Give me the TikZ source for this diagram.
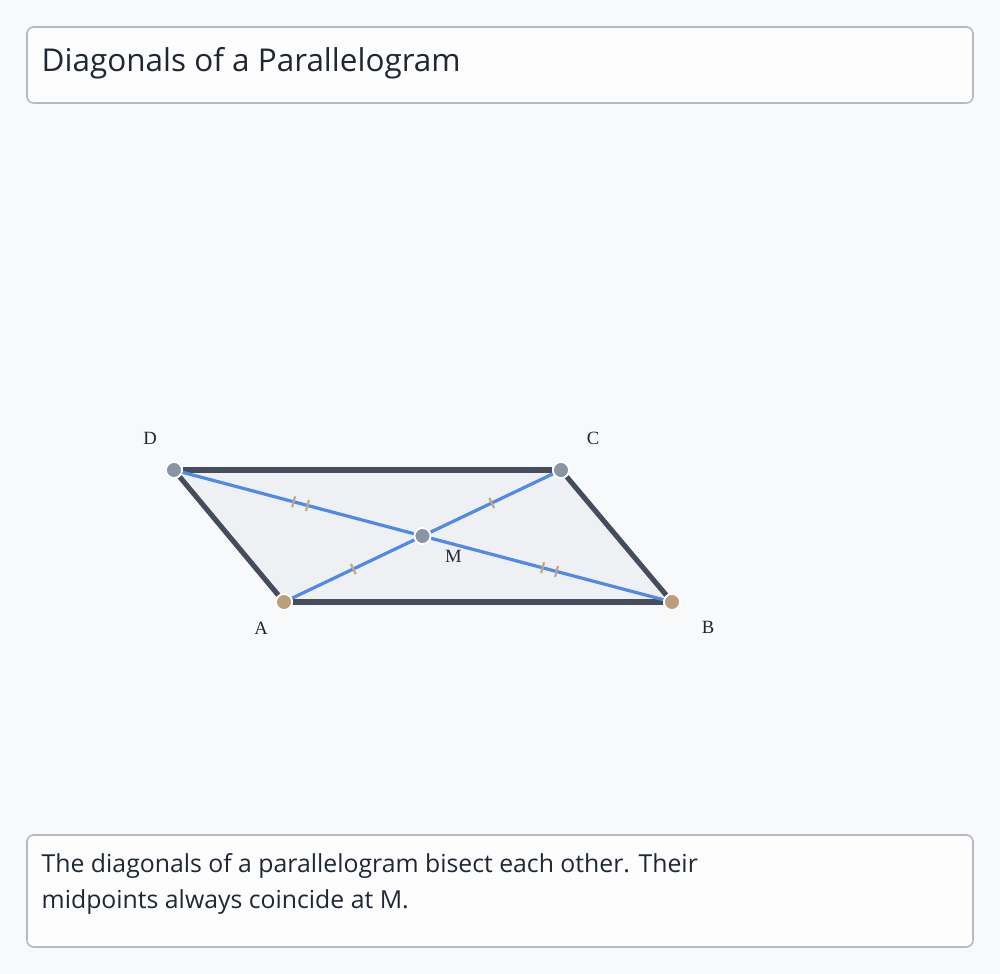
\documentclass[tikz,border=0pt]{standalone}
\usepackage{fontspec}
\setmainfont{Open Sans}
\newfontfamily\labelfont{Liberation Serif}
\usetikzlibrary{calc,positioning}
\definecolor{pagebg}{HTML}{F8F9FB}
\definecolor{boxbg}{HTML}{FDFDFE}
\definecolor{boxline}{HTML}{B4B9C2}
\definecolor{inkdark}{HTML}{1F2733}
\definecolor{sidecol}{HTML}{454D5D}
\definecolor{fillcol}{HTML}{EEF0F4}
\definecolor{diagcol}{HTML}{4F8AE6}
\definecolor{tickcol}{HTML}{C4A482}
\definecolor{tancol}{HTML}{BB9E7E}
\definecolor{greycol}{HTML}{8B94A5}
\tikzset{
  panel/.style={draw=boxline,line width=1.2pt,fill=boxbg,rounded corners=5pt},
  vertex/.style={circle,fill=#1,draw=white,line width=1.3pt,minimum size=12pt,inner sep=0pt},
  side/.style={draw=sidecol,line width=3.8pt},
  diag/.style={draw=diagcol,line width=2.4pt},
  tick/.style={fill=tickcol,minimum width=1.6pt,minimum height=8.5pt,inner sep=0pt,sloped},
  ptlabel/.style={font=\labelfont\fontsize{14}{16}\selectfont,text=inkdark}
}
\begin{document}
\begin{tikzpicture}[x=0.75pt,y=-0.75pt]
  \fill[pagebg] (0,0) rectangle (1000,974);
  \useasboundingbox (0,0) rectangle (1000,974);
  % header and caption
  \draw[panel] (27,27) rectangle (973,103);
  \node[anchor=west,text=inkdark,font=\fontsize{23.6}{28}\selectfont] (title) at (37,63) {Diagonals of a Parallelogram};
  \draw[panel] (27,835) rectangle (973,947);
  \node[anchor=north west,align=left,text=inkdark,font=\fontsize{18.6}{26.5}\selectfont] (caption) at (37,849)
    {The diagonals of a parallelogram bisect each other. Their\\midpoints always coincide at M.};
  % vertices
  \coordinate (a) at (284,602);
  \coordinate (b) at (672,602);
  \coordinate (c) at (561,470);
  \coordinate (d) at (174,470);
  \coordinate (m) at ($ (a)!0.5!(c) $);
  \fill[fillcol] (a) -- (b) -- (c) -- (d) -- cycle;
  \node[vertex=tancol] (A) at (a) {};
  \node[vertex=tancol] (B) at (b) {};
  \node[vertex=greycol] (C) at (c) {};
  \node[vertex=greycol] (D) at (d) {};
  \node[vertex=greycol] (M) at (m) {};
  \draw[side] (A) -- (B);
  \draw[side] (B) -- (C);
  \draw[side] (C) -- (D);
  \draw[side] (D) -- (A);
  \draw[diag] (A) -- node[tick,pos=0.5]{} (M);
  \draw[diag] (M) -- node[tick,pos=0.5]{} (C);
  \draw[diag] (D) -- node[tick,pos=0.48]{} node[tick,pos=0.54]{} (M);
  \draw[diag] (M) -- node[tick,pos=0.48]{} node[tick,pos=0.54]{} (B);
  \node[vertex=tancol] at (a) {};
  \node[vertex=tancol] at (b) {};
  \node[vertex=greycol] at (c) {};
  \node[vertex=greycol] at (d) {};
  \node[vertex=greycol] at (m) {};
  % labels
  \node[ptlabel] (labA) at ($ (a) + (-23,26) $) {A};
  \node[ptlabel] (labB) at ($ (b) + (36,25) $) {B};
  \node[ptlabel] (labC) at ($ (c) + (32,-32) $) {C};
  \node[ptlabel] (labD) at ($ (d) + (-24,-32) $) {D};
  \node[ptlabel] (labM) at ($ (m) + (31,20) $) {M};
\end{tikzpicture}
\end{document}
